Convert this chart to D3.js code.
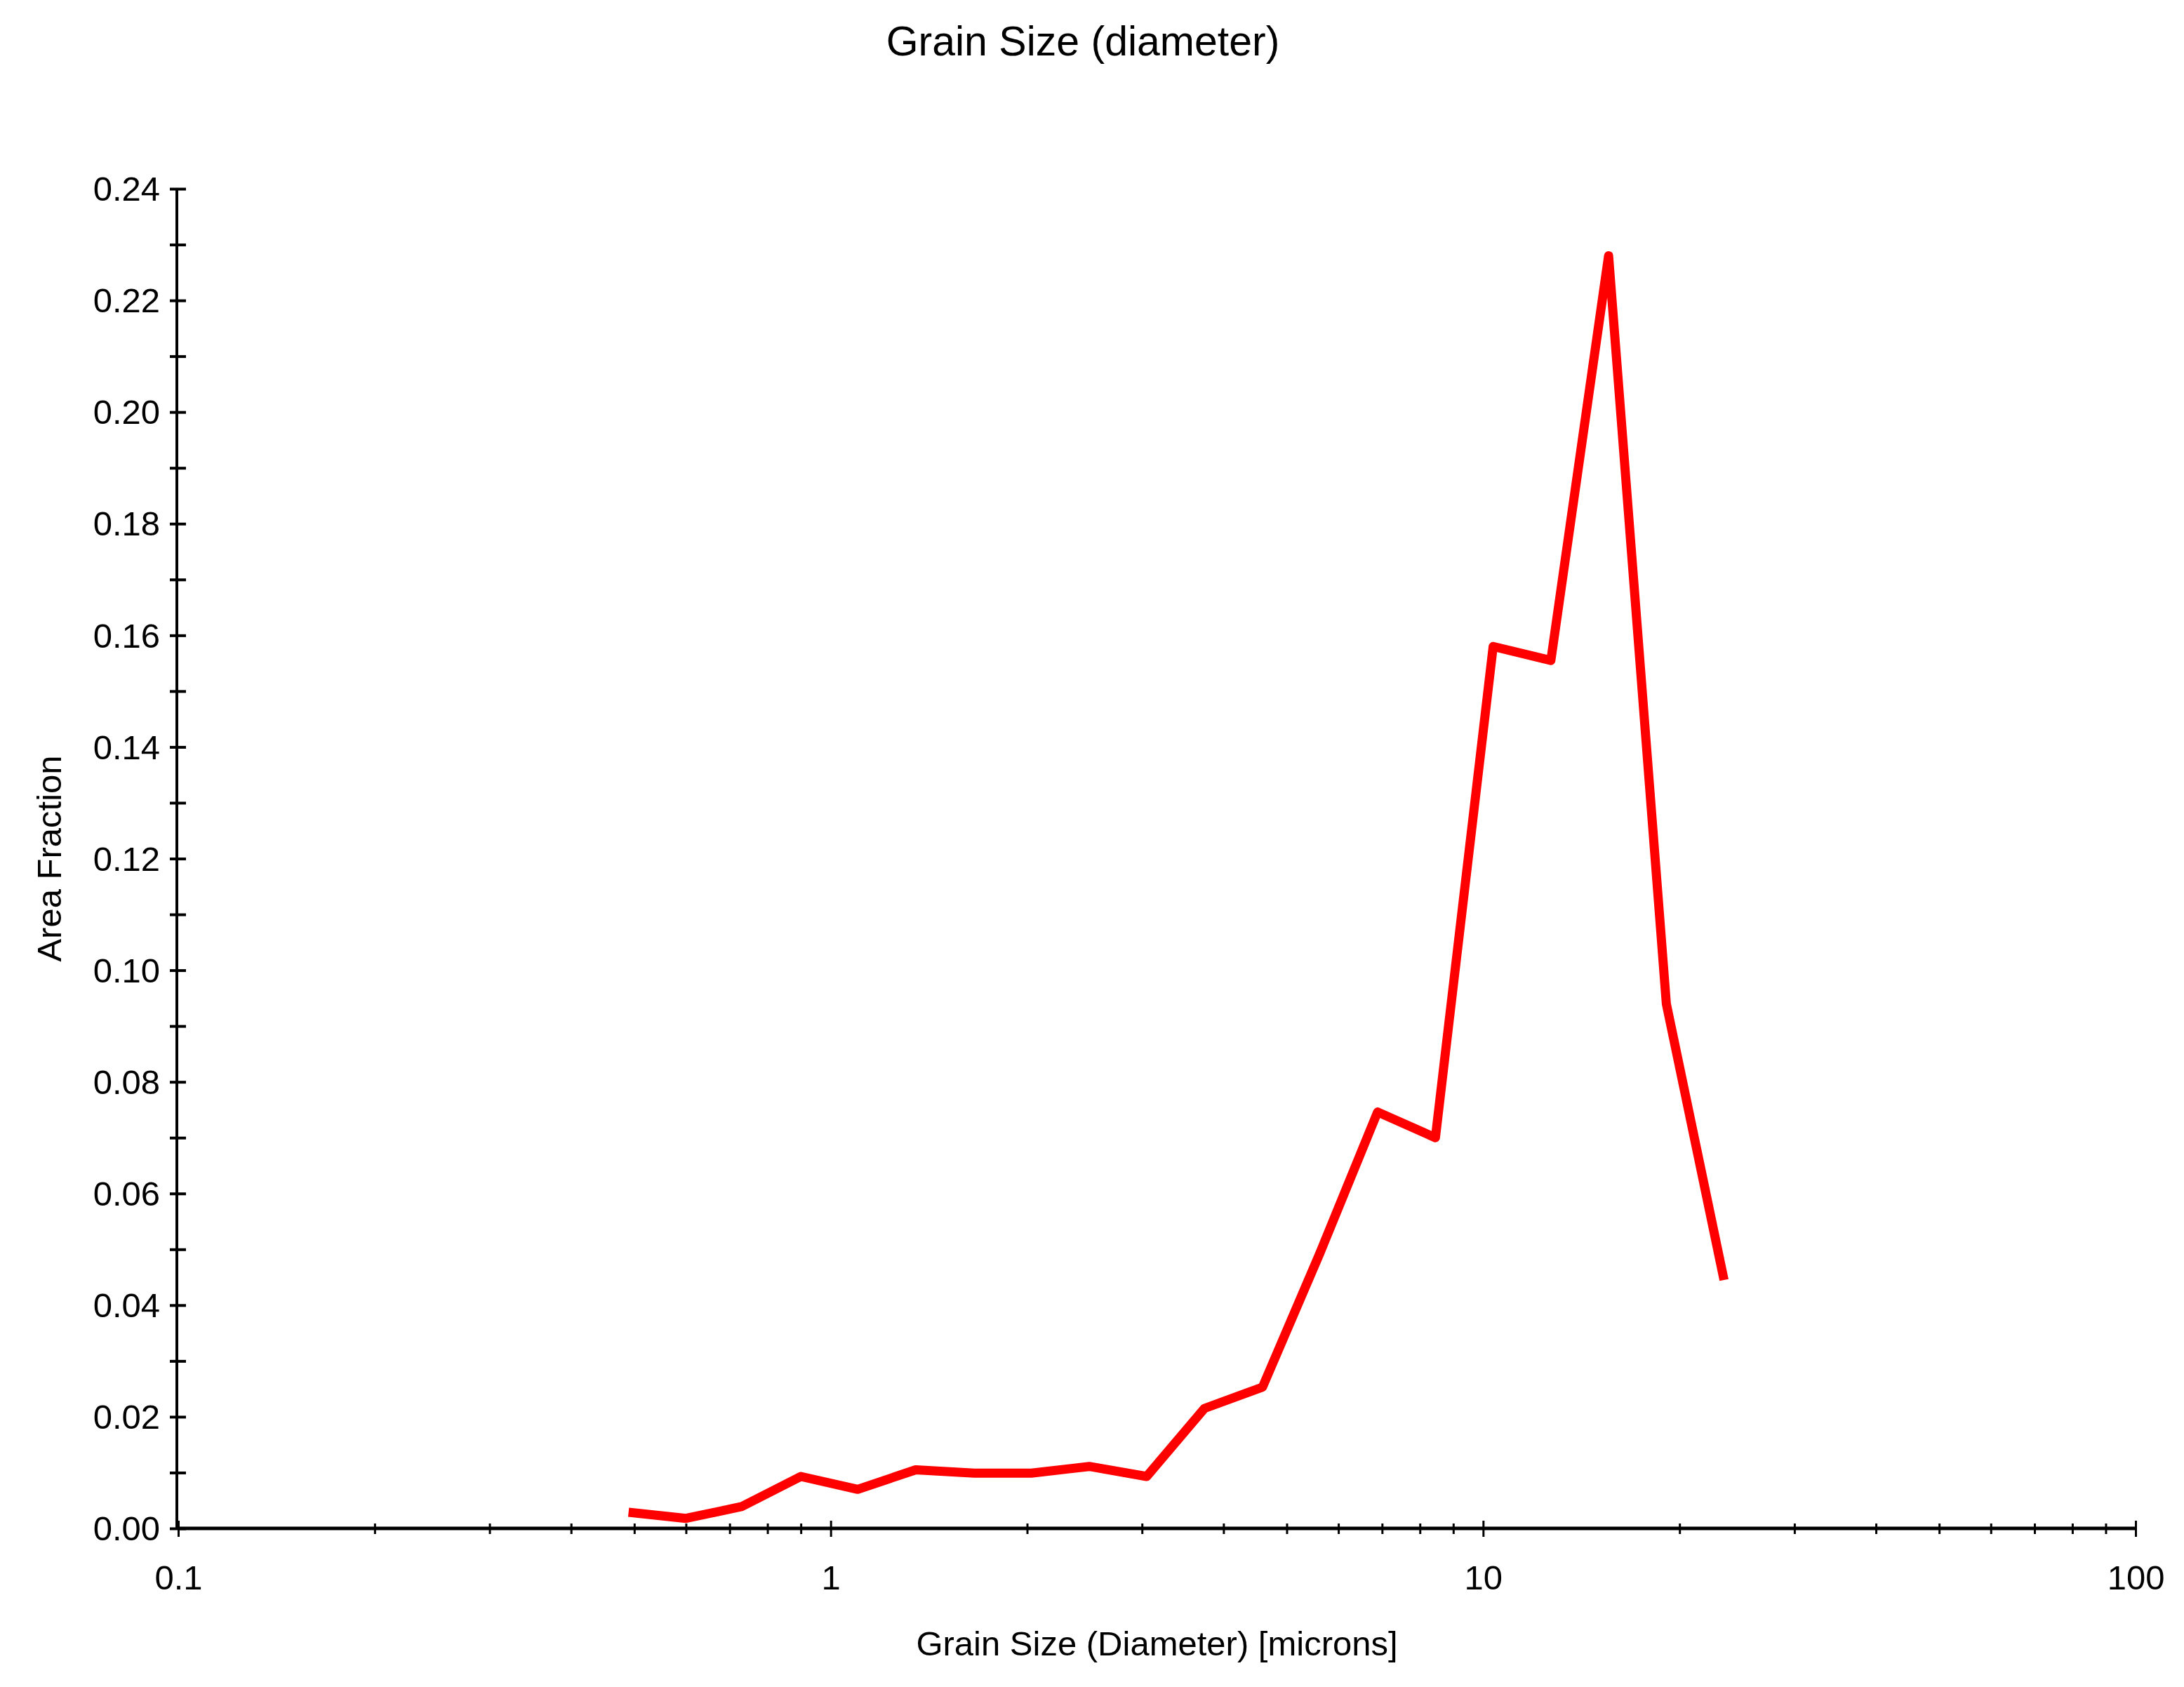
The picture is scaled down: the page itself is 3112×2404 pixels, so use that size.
<!DOCTYPE html>
<html>
<head>
<meta charset="utf-8">
<script src="https://cdn.jsdelivr.net/npm/d3@7"></script>
<style>
html, body { margin: 0; padding: 0; background: #ffffff; }
svg { display: block; }
</style>
</head>
<body>
<script>
// ---- data ----
const grainSize = [0.49, 0.60, 0.73, 0.90, 1.10, 1.35, 1.66, 2.03, 2.49, 3.05,
                   3.74, 4.59, 5.62, 6.89, 8.45, 10.36, 12.70, 15.57, 19.09, 23.40];
const areaFraction = [0.0029, 0.0018, 0.0039, 0.0093, 0.0070, 0.0105, 0.0099, 0.0099, 0.0111, 0.0093,
                      0.0215, 0.0253, 0.0493, 0.0746, 0.0700, 0.1580, 0.1555, 0.2280, 0.0940, 0.0445];
const xMajorTicks = [0.1, 1, 10, 100];
const xMajorLabels = ["0.1", "1", "10", "100"];
const xMinorTicks = [0.2, 0.3, 0.4, 0.5, 0.6, 0.7, 0.8, 0.9,
                     2, 3, 4, 5, 6, 7, 8, 9,
                     20, 30, 40, 50, 60, 70, 80, 90];
const yMajorTicks = [0, 0.02, 0.04, 0.06, 0.08, 0.10, 0.12, 0.14, 0.16, 0.18, 0.20, 0.22, 0.24];
const yMajorLabels = ["0.00", "0.02", "0.04", "0.06", "0.08", "0.10", "0.12", "0.14", "0.16", "0.18", "0.20", "0.22", "0.24"];
const yMinorTicks = [0.01, 0.03, 0.05, 0.07, 0.09, 0.11, 0.13, 0.15, 0.17, 0.19, 0.21, 0.23];
const chartTitle = "Grain Size (diameter)";
const xAxisTitle = "Grain Size (Diameter) [microns]";
const yAxisTitle = "Area Fraction";

// ---- layout ----
const W = 3112, H = 2404;
const plot = { left: 254, right: 3043, top: 269, bottom: 2178 };
const FONT = "'Liberation Sans', Arial, sans-serif";

const svg = d3.select("body").append("svg")
  .attr("width", W).attr("height", H)
  .attr("viewBox", `0 0 ${W} ${H}`)
  .style("font-family", FONT);

svg.append("rect").attr("width", W).attr("height", H).attr("fill", "#ffffff");

const x = d3.scaleLog().domain([0.1, 100]).range([plot.left, plot.right]);
const y = d3.scaleLinear().domain([0, 0.24]).range([plot.bottom, plot.top]);

// ---- x axis ----
const xAxisG = svg.append("g").attr("transform", `translate(0,${plot.bottom})`);
// minor ticks
const xMinorG = xAxisG.append("g")
  .call(d3.axisBottom(x).tickValues(xMinorTicks).tickSize(0).tickFormat(""));
xMinorG.select(".domain").remove();
xMinorG.selectAll(".tick line").attr("y1", -7).attr("y2", 8)
  .attr("stroke", "#000").attr("stroke-width", 3);
// major ticks + labels
const xMajorG = xAxisG.append("g")
  .call(d3.axisBottom(x).tickValues(xMajorTicks).tickSize(0).tickPadding(52)
        .tickFormat((d, i) => xMajorLabels[i]));
xMajorG.select(".domain")
  .attr("d", `M${plot.left},0H${plot.right}`)
  .attr("stroke", "#000").attr("stroke-width", 5);
xMajorG.selectAll(".tick line").attr("y1", -11).attr("y2", 12)
  .attr("stroke", "#000").attr("stroke-width", 3);
xMajorG.selectAll(".tick text")
  .attr("fill", "#000").style("font-size", "49px").style("font-family", FONT);

// ---- y axis ----
const yAxisG = svg.append("g").attr("transform", `translate(${plot.left - 2},0)`);
const yMinorG = yAxisG.append("g")
  .call(d3.axisLeft(y).tickValues(yMinorTicks).tickSize(0).tickFormat(""));
yMinorG.select(".domain").remove();
yMinorG.selectAll(".tick line").attr("x1", -10).attr("x2", 13)
  .attr("stroke", "#000").attr("stroke-width", 4);
const yMajorG = yAxisG.append("g")
  .call(d3.axisLeft(y).tickValues(yMajorTicks).tickSize(0).tickPadding(24)
        .tickFormat((d, i) => yMajorLabels[i]));
yMajorG.select(".domain")
  .attr("d", `M0,${plot.top}V${plot.bottom}`)
  .attr("stroke", "#000").attr("stroke-width", 4);
yMajorG.selectAll(".tick line").attr("x1", -10).attr("x2", 13)
  .attr("stroke", "#000").attr("stroke-width", 4);
yMajorG.selectAll(".tick text")
  .attr("fill", "#000").attr("dy", "0.34em")
  .style("font-size", "49px").style("font-family", FONT);

// ---- data line ----
const pts = grainSize.map((s, i) => ({ s: s, v: areaFraction[i] }));
const line = d3.line().x(d => x(d.s)).y(d => y(d.v));
svg.append("path")
  .datum(pts)
  .attr("d", line)
  .attr("fill", "none")
  .attr("stroke", "#ff0000")
  .attr("stroke-width", 13)
  .attr("stroke-linejoin", "round")
  .attr("stroke-linecap", "butt");

// ---- titles ----
svg.append("text")
  .attr("x", 1543).attr("y", 79)
  .attr("text-anchor", "middle")
  .style("font-size", "59px")
  .attr("fill", "#000")
  .text(chartTitle);

svg.append("text")
  .attr("x", (plot.left + plot.right) / 2).attr("y", 2359)
  .attr("text-anchor", "middle")
  .style("font-size", "49px")
  .attr("fill", "#000")
  .text(xAxisTitle);

svg.append("text")
  .attr("transform", `translate(87,${(plot.top + plot.bottom) / 2}) rotate(-90)`)
  .attr("text-anchor", "middle")
  .style("font-size", "49px")
  .attr("fill", "#000")
  .text(yAxisTitle);
</script>
</body>
</html>
